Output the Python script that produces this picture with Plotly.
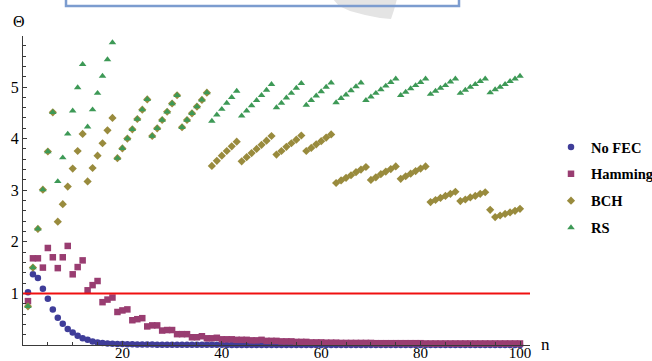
import plotly.graph_objects as go

# ---- data -------------------------------------------------------------
n_values = list(range(1, 101))

no_fec = [
    1.02, 1.37, 1.30, 1.09, 0.895, 0.69, 0.53, 0.41, 0.31, 0.24,
    0.18, 0.13, 0.10, 0.07, 0.05, 0.04, 0.03, 0.025, 0.02, 0.018,
    0.015, 0.013, 0.011, 0.010, 0.009, 0.008, 0.007, 0.006, 0.005, 0.005,
    0.004, 0.004, 0.004, 0.004, 0.004, 0.003, 0.003, 0.003, 0.003, 0.003,
    0.002, 0.002, 0.002, 0.002, 0.002, 0.002, 0.002, 0.001, 0.001, 0.001,
    0.001, 0.001, 0.001, 0.001, 0.001, 0.001, 0.0, 0.0, 0.0, 0.0,
    0.0, 0.0, 0.0, 0.0, 0.0, 0.0, 0.0, 0.0, 0.0, 0.0,
    0.0, 0.0, 0.0, 0.0, 0.0, 0.0, 0.0, 0.0, 0.0, 0.0,
    0.0, 0.0, 0.0, 0.0, 0.0, 0.0, 0.0, 0.0, 0.0, 0.0,
    0.0, 0.0, 0.0, 0.0, 0.0, 0.0, 0.0, 0.0, 0.0, 0.0,
]

hamming = [
    0.85, 1.68, 1.68, 1.50, 1.88, 1.70, 1.49, 1.70, 1.92, 1.37,
    1.51, 1.64, 1.06, 1.16, 1.24, 0.83, 0.88, 0.92, 0.64, 0.67,
    0.69, 0.48, 0.50, 0.52, 0.36, 0.38, 0.38, 0.28, 0.29, 0.29,
    0.21, 0.21, 0.21, 0.15, 0.15, 0.17, 0.13, 0.13, 0.14, 0.11,
    0.11, 0.11, 0.10, 0.10, 0.10, 0.09, 0.09, 0.10, 0.08, 0.08,
    0.08, 0.07, 0.07, 0.07, 0.06, 0.06, 0.06, 0.05, 0.05, 0.05,
    0.045, 0.045, 0.045, 0.04, 0.04, 0.04, 0.04, 0.04, 0.04, 0.04,
    0.035, 0.035, 0.035, 0.035, 0.035, 0.035, 0.035, 0.035, 0.035, 0.035,
    0.03, 0.03, 0.03, 0.03, 0.03, 0.03, 0.03, 0.03, 0.03, 0.03,
    0.03, 0.03, 0.03, 0.03, 0.03, 0.03, 0.03, 0.03, 0.03, 0.03,
]

bch = [
    0.75, 1.50, 2.25, 3.01, 3.75, 4.51,
    2.39, 2.73, 3.07, 3.42, 3.76, 4.09,
    3.17, 3.43, 3.67, 3.91, 4.16, 4.40,
    3.62, 3.81, 4.00, 4.18, 4.38, 4.56, 4.76,
    4.05, 4.20, 4.36, 4.52, 4.68, 4.84,
    4.22, 4.36, 4.49, 4.62, 4.75, 4.89,
    3.47, 3.57, 3.67, 3.76, 3.85, 3.94,
    3.56, 3.64, 3.72, 3.80, 3.88, 3.96, 4.05,
    3.69, 3.76, 3.84, 3.91, 3.98, 4.06,
    3.76, 3.82, 3.89, 3.95, 4.02, 4.08,
    3.14, 3.19, 3.24, 3.29, 3.35, 3.40, 3.45,
    3.20, 3.25, 3.31, 3.36, 3.41, 3.46,
    3.22, 3.27, 3.32, 3.37, 3.42, 3.46,
    2.77, 2.81, 2.85, 2.89, 2.93, 2.97,
    2.79, 2.82, 2.86, 2.89, 2.93, 2.96,
    2.62,
    2.48, 2.51, 2.54, 2.57, 2.60, 2.64,
]

rs = [
    0.75, 1.50, 2.25, 3.01, 3.75, 4.51,
    3.17, 3.63, 4.09, 4.54, 4.99, 5.44,
    4.23, 4.56, 4.88, 5.21, 5.53, 5.86,
    3.62, 3.81, 4.00, 4.18, 4.38, 4.56, 4.76,
    4.05, 4.20, 4.36, 4.52, 4.68, 4.84,
    4.22, 4.36, 4.49, 4.62, 4.75, 4.89,
    4.34, 4.46, 4.57, 4.69, 4.80, 4.92,
    4.44, 4.54, 4.64, 4.74, 4.84, 4.94, 5.05,
    4.60, 4.69, 4.79, 4.88, 4.98, 5.07,
    4.65, 4.74, 4.83, 4.91, 5.00, 5.08,
    4.70, 4.78, 4.85, 4.93, 5.01, 5.08,
    4.74, 4.81, 4.88, 4.95, 5.02, 5.09, 5.16,
    4.84, 4.90, 4.97, 5.03, 5.09, 5.16,
    4.86, 4.92, 4.98, 5.03, 5.10, 5.16,
    4.88, 4.94, 5.00, 5.05, 5.11, 5.16,
    4.89, 4.95, 5.00, 5.05, 5.11, 5.16, 5.21,
]

threshold = 1.0
series_names = ["No FEC", "Hamming", "BCH", "RS"]
x_tick_values = [20, 40, 60, 80, 100]
x_minor_values = [5, 10, 15, 25, 30, 35, 45, 50, 55, 65, 70, 75, 85, 90, 95]
y_tick_values = [1, 2, 3, 4, 5]
y_minor_values = [0.2, 0.4, 0.6, 0.8, 1.2, 1.4, 1.6, 1.8, 2.2, 2.4, 2.6, 2.8,
                  3.2, 3.4, 3.6, 3.8, 4.2, 4.4, 4.6, 4.8, 5.2, 5.4, 5.6, 5.8]

# ---- geometry ---------------------------------------------------------
W, H = 652, 361
ML, MR, MT, MB = 23, 122, 36, 16
PW, PH = W - ML - MR, H - MT - MB
X_MAX = PW / 4.97
Y_MAX = PH / 51.6


def px_x(px):
    return (px - ML) / PW


def px_y(py):
    return (H - MB - py) / PH


colors = ["#3F3D99", "#993D71", "#998B3D", "#3D9956"]
symbols = ["circle", "square", "diamond", "triangle-up"]
sizes = [6.5, 6.5, 6.3, 6.6]
series = [no_fec, hamming, bch, rs]

serif = "'Liberation Serif', 'Times New Roman', Times, 'DejaVu Serif', serif"
axis_col = "#3a3a3a"

fig = go.Figure()
for name, vals, col, sym, sz in zip(series_names, series, colors, symbols, sizes):
    fig.add_trace(go.Scatter(
        x=n_values, y=vals, mode="markers", name=name, legendgroup=name,
        marker=dict(symbol=sym, size=sz, color=col, line=dict(width=0)),
        cliponaxis=False,
    ))

# threshold line
fig.add_shape(type="line", xref="x", yref="y", x0=0, x1=X_MAX,
              y0=threshold, y1=threshold,
              line=dict(color="#F01010", width=2), layer="above")

# framed caption box running off the top edge, with a grey swoosh
swoosh = [(333, -1), (339, 6), (350, 11), (365, 15), (380, 18), (391, 19),
          (394, 10), (397, -1)]
path = "M " + " L ".join(f"{px_x(a):.5f},{px_y(b):.5f}" for a, b in swoosh) + " Z"
fig.add_shape(type="path", xref="paper", yref="paper", path=path,
              fillcolor="#E4E4E4", line=dict(width=0), layer="below")
fig.add_shape(type="rect", xref="paper", yref="paper",
              x0=px_x(66), x1=px_x(459), y0=px_y(6), y1=px_y(-10),
              line=dict(color="#7C9CCF", width=2.5), fillcolor="rgba(0,0,0,0)")

fig.add_annotation(text="Θ", xref="paper", yref="paper", x=px_x(19), y=px_y(21),
                   xanchor="center", yanchor="middle",
                   showarrow=False, font=dict(family=serif, size=16, color="black"))
fig.add_annotation(text="n", xref="paper", yref="paper", x=px_x(545), y=px_y(344),
                   xanchor="center", yanchor="middle",
                   showarrow=False, font=dict(family=serif, size=17, color="black"))

fig.update_layout(
    width=W, height=H,
    margin=dict(l=ML, r=MR, t=MT, b=MB, pad=0, autoexpand=False),
    paper_bgcolor="white", plot_bgcolor="white",
    showlegend=True,
    legend=dict(
        xref="container", yref="container",
        x=551 / W, y=1 - 131 / H, xanchor="left", yanchor="top",
        font=dict(family=serif, size=14.5, color="black", weight="bold"),
        tracegroupgap=5.0, bgcolor="rgba(0,0,0,0)", borderwidth=0,
    ),
    xaxis=dict(
        range=[0, X_MAX], showline=True, linecolor=axis_col, linewidth=1.2,
        ticks="inside", ticklen=4, tickwidth=1, tickcolor=axis_col,
        tickmode="array", tickvals=x_tick_values, ticklabelstandoff=-6,
        tickfont=dict(family=serif, size=15, color="black"),
        showgrid=False, zeroline=False,
        minor=dict(tickmode="array", tickvals=x_minor_values, ticks="inside",
                   ticklen=2.5, tickwidth=1, tickcolor=axis_col, showgrid=False),
    ),
    yaxis=dict(
        range=[0, Y_MAX], showline=True, linecolor=axis_col, linewidth=1.2,
        ticks="inside", ticklen=4, tickwidth=1, tickcolor=axis_col,
        tickmode="array", tickvals=y_tick_values,
        tickfont=dict(family=serif, size=16, color="black"),
        showgrid=False, zeroline=False,
        minor=dict(tickmode="array", tickvals=y_minor_values, ticks="inside",
                   ticklen=2.5, tickwidth=1, tickcolor=axis_col, showgrid=False),
    ),
)

fig.write_html("out.html")
